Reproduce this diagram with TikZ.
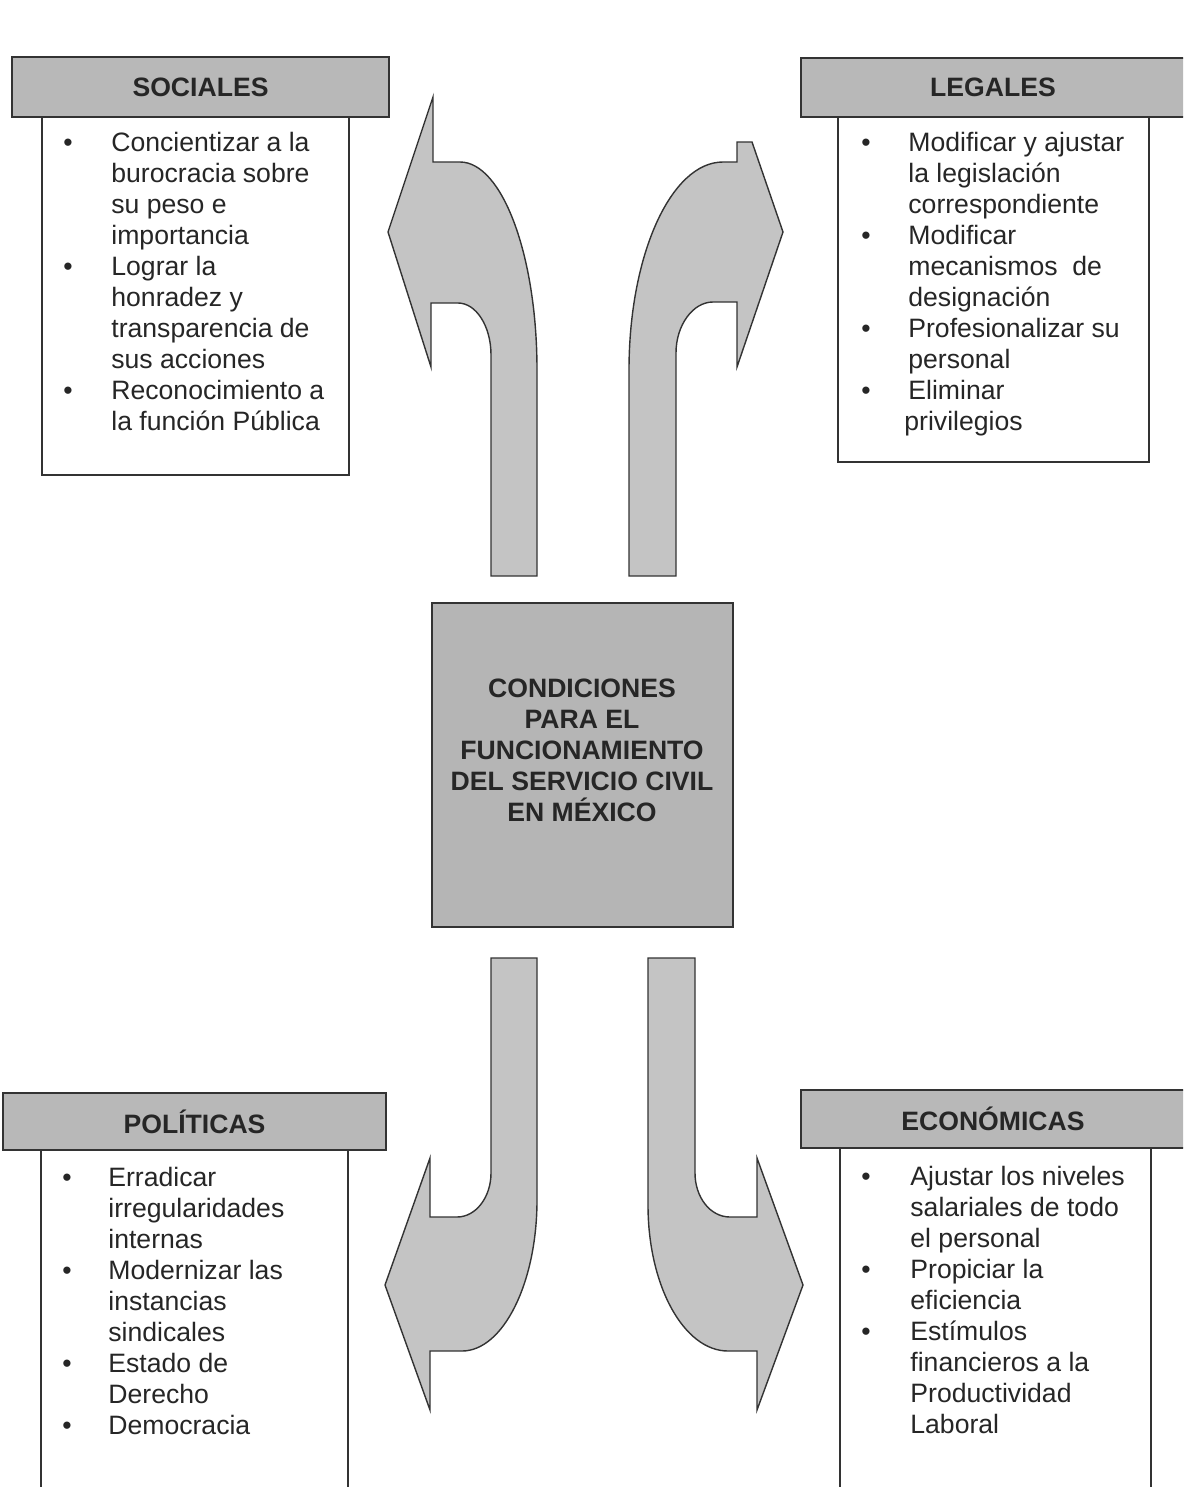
\documentclass[tikz,border=0pt]{standalone}
\usepackage{fontspec}
\setmainfont{Liberation Sans}
\usepackage{xcolor}
\definecolor{linegray}{gray}{0.2}
\definecolor{hdrgray}{gray}{0.72}
\definecolor{arrowgray}{gray}{0.77}
\definecolor{coregray}{gray}{0.71}

\begin{document}
\begin{tikzpicture}
[
x=0.5pt, y=-0.5pt,
every node/.style={font=\fontsize{13.3pt}{15.5pt}\selectfont, text=black!85},
hdr/.style={rectangle, draw=linegray, fill=hdrgray, line width=0.7pt, inner sep=0pt, font=\fontsize{13.3pt}{15.5pt}\selectfont\bfseries},
body/.style={rectangle, draw=linegray, fill=white, line width=0.7pt, inner sep=0pt},
items/.style={anchor=base west, inner sep=0pt},
bigarrow/.style={draw=linegray, fill=arrowgray, line width=0.7pt},
core/.style={rectangle, draw=linegray, fill=coregray, line width=0.7pt, inner sep=0pt},
coretext/.style={align=center, inner sep=0pt, font=\fontsize{13.3pt}{15.5pt}\selectfont\bfseries},
]
\useasboundingbox (0,0) rectangle (1183,1487);
\clip (0,0) rectangle (1183,1487);

% arrows
\draw[bigarrow] (491,576) -- (491,355) .. controls (491,326) and (476,303) .. (458,303) -- (431,303) -- (431,367) -- (388,232) -- (433,97) -- (433,162) -- (460,162) .. controls (502,162) and (537,255) .. (537,370) -- (537,576) -- cycle;
\draw[bigarrow] (676,576) -- (676,353) .. controls (676,325) and (693,302) .. (713,302) -- (737,302) -- (737,367) -- (783,232) -- (752,142) -- (737,142) -- (737,162) -- (723,162) .. controls (671,162) and (629,255) .. (629,370) -- (629,576) -- cycle;
\draw[bigarrow] (491,958) -- (491,1173) .. controls (491,1197) and (476,1217) .. (457,1217) -- (430,1217) -- (430,1158) -- (385,1285) -- (430,1410) -- (430,1351) -- (462,1351) .. controls (503,1351) and (537,1283) .. (537,1200) -- (537,958) -- cycle;
\draw[bigarrow] (695,958) -- (695,1173) .. controls (695,1197) and (710,1217) .. (730,1217) -- (757,1217) -- (757,1158) -- (803,1285) -- (757,1410) -- (757,1351) -- (728,1351) .. controls (684,1351) and (648,1286) .. (648,1205) -- (648,958) -- cycle;

% centre
\node at (582.5,765) [core, minimum width=150.5pt, minimum height=162pt] (core) {};
\node at (582,750) [coretext] (coretxt) {CONDICIONES\\PARA EL\\FUNCIONAMIENTO\\DEL SERVICIO CIVIL\\EN MÉXICO};

% sociales
\node at (195.5,296) [body, minimum width=153.5pt, minimum height=179pt] (sbody) {};
\node at (200.5,87) [hdr, minimum width=188.5pt, minimum height=30pt] (shdr) {SOCIALES};
\node at (63,152) [items] (sitems) {\begin{tabular}[t]{@{}p{24pt}@{}l@{}}
\textbullet & Concientizar a la\\
 & burocracia sobre\\
 & su peso e\\
 & importancia\\
\textbullet & Lograr la\\
 & honradez y\\
 & transparencia de\\
 & sus acciones\\
\textbullet & Reconocimiento a\\
 & la función Pública
\end{tabular}};

% legales
\node at (993.5,289.5) [body, minimum width=155.5pt, minimum height=172.5pt] (lbody) {};
\node at (993,87.5) [hdr, minimum width=192pt, minimum height=29.5pt] (lhdr) {LEGALES};
\node at (861,152) [items] (litems) {\begin{tabular}[t]{@{}p{23.5pt}@{}l@{}}
\textbullet & Modificar y ajustar\\
 & la legislación\\
 & correspondiente\\
\textbullet & Modificar\\
 & mecanismos\ \ de\\
 & designación\\
\textbullet & Profesionalizar su\\
 & personal\\
\textbullet & Eliminar\\
 & \hspace*{-2pt}privilegios
\end{tabular}};

% politicas
\node at (194.5,1325) [body, minimum width=153.5pt, minimum height=175pt] (pbody) {};
\node at (194.5,1121.5) [hdr, minimum width=191.5pt, minimum height=28.5pt] (phdr) {POLÍTICAS};
\node at (62,1186) [items] (pitems) {\begin{tabular}[t]{@{}p{23pt}@{}l@{}}
\textbullet & Erradicar\\
 & irregularidades\\
 & internas\\
\textbullet & Modernizar las\\
 & instancias\\
 & sindicales\\
\textbullet & Estado de\\
 & Derecho\\
\textbullet & Democracia
\end{tabular}};

% economicas
\node at (995.5,1324) [body, minimum width=155.5pt, minimum height=176pt] (ebody) {};
\node at (993,1119) [hdr, minimum width=192pt, minimum height=29pt] (ehdr) {ECONÓMICAS};
\node at (861,1185) [items] (eitems) {\begin{tabular}[t]{@{}p{24.5pt}@{}l@{}}
\textbullet & Ajustar los niveles\\
 & salariales de todo\\
 & el personal\\
\textbullet & Propiciar la\\
 & eficiencia\\
\textbullet & Estímulos\\
 & financieros a la\\
 & Productividad\\
 & Laboral
\end{tabular}};
\end{tikzpicture}
\end{document}
